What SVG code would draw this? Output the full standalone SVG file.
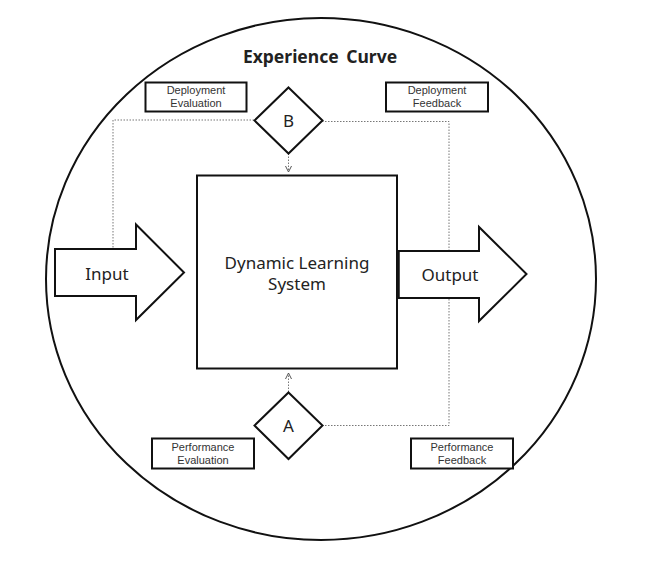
<svg xmlns="http://www.w3.org/2000/svg" width="647" height="562" viewBox="0 0 647 562">
<style>
.ln{fill:#fff;stroke:#111;stroke-width:2}
.dot{fill:none;stroke:#777;stroke-width:1;stroke-dasharray:1.5 1.5}
.t{font-family:"Noto Sans","Open Sans",sans-serif;fill:#222;text-anchor:middle}
.s{font-family:"Liberation Sans","Noto Sans",sans-serif;font-size:11px;fill:#333}
.m{font-size:17px}
</style>
<defs>
<marker id="ah" markerWidth="8" markerHeight="8" refX="7" refY="4" orient="auto" markerUnits="userSpaceOnUse">
<path d="M1,1 L7,4 L1,7" fill="none" stroke="#555" stroke-width="1"/>
</marker>
</defs>
<rect width="647" height="562" fill="#fff"/>
<g id="experience-curve">
<ellipse cx="321" cy="279" rx="275" ry="261" fill="none" stroke="#111" stroke-width="2"/>
<text class="t" x="320" y="63" font-size="17.5" font-weight="bold" word-spacing="3" fill="#111">Experience Curve</text>
</g>
<g id="connectors">
<polyline class="dot" points="254,120 113,120 113,249"/>
<polyline class="dot" points="322,121.5 449,121.5 449,250"/>
<polyline class="dot" points="322,425.5 449,425.5 449,298"/>
<line class="dot" x1="288.5" y1="153.5" x2="288.5" y2="172" marker-end="url(#ah)"/>
<line class="dot" x1="288.5" y1="392" x2="288.5" y2="373" marker-end="url(#ah)"/>
</g>
<g id="dynamic-learning-system">
<rect class="ln" x="197" y="175.5" width="200" height="193"/>
<text class="t m" x="297" y="269">Dynamic Learning</text>
<text class="t m" x="297" y="290">System</text>
</g>
<g id="input">
<polygon class="ln" points="55,249 136,249 136,224.5 184,272.5 136,320 136,296 55,296"/>
<text class="t m" x="107" y="280">Input</text>
</g>
<g id="output">
<polygon class="ln" points="398,251 479,251 479,227 526.5,274 479,321 479,298 398,298"/>
<line x1="398" y1="251" x2="398" y2="298" stroke="#111" stroke-width="3.5"/>
<text class="t m" x="450" y="281">Output</text>
</g>
<g id="diamond-b">
<polygon class="ln" points="288.5,87.5 322.5,120.5 288.5,153.5 254.5,120.5"/>
<text class="t m" x="288.5" y="127">B</text>
</g>
<g id="diamond-a">
<polygon class="ln" points="288.5,392.5 322.5,425.5 288.5,459 254.5,425.5"/>
<text class="t m" x="288.5" y="432">A</text>
</g>
<g id="deployment-evaluation">
<rect class="ln" x="145.5" y="82.5" width="101" height="29"/>
<text class="t s" x="196" y="94.3">Deployment</text>
<text class="t s" x="196" y="107">Evaluation</text>
</g>
<g id="deployment-feedback">
<rect class="ln" x="386" y="82.5" width="102" height="29"/>
<text class="t s" x="437" y="94.3">Deployment</text>
<text class="t s" x="437" y="107">Feedback</text>
</g>
<g id="performance-evaluation">
<rect class="ln" x="152" y="438.5" width="102" height="30"/>
<text class="t s" x="203" y="450.8">Performance</text>
<text class="t s" x="203" y="463.5">Evaluation</text>
</g>
<g id="performance-feedback">
<rect class="ln" x="411" y="438.5" width="102" height="30"/>
<text class="t s" x="462" y="450.8">Performance</text>
<text class="t s" x="462" y="463.5">Feedback</text>
</g>
</svg>
